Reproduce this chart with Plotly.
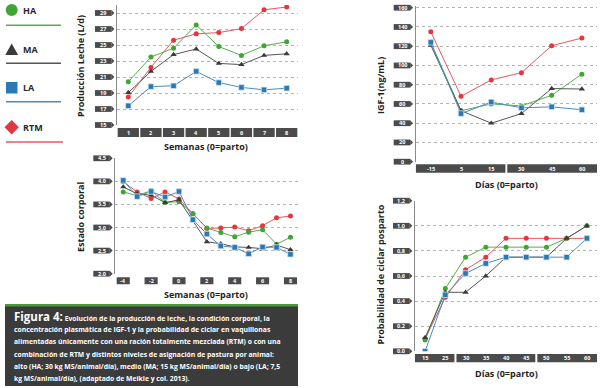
import plotly.graph_objects as go

W, H = 600, 388
def px(x): return x / W
def py(y): return 1 - y / H

# ---------------- data ----------------
semanas = [1, 2, 3, 4, 5, 6, 7, 8]
leche_HA = [20.4, 23.5, 24.6, 27.5, 24.8, 23.7, 24.9, 25.4]
leche_MA = [19.05, 21.7, 23.8, 24.5, 22.7, 22.55, 23.7, 23.9]
leche_LA = [17.4, 19.8, 19.9, 21.7, 20.3, 19.7, 19.4, 19.6]
leche_RTM = [18.5, 22.2, 25.6, 26.4, 26.55, 27.05, 29.4, 29.75]

dias_igf = ["-15", "5", "15", "30", "45", "60"]
igf_HA = [124, 53, 60, 58, 69, 91]
igf_MA = [121, 53, 40, 50, 76, 75.5]
igf_LA = [124, 50, 62, 56, 57, 54]
igf_RTM = [135, 68, 85, 92.5, 120.5, 128.5]

semanas_cc = [-4, -3, -2, -1, 0, 1, 2, 3, 4, 5, 6, 7, 8]
cc_HA = [3.77, 3.69, 3.80, 3.54, 3.56, 3.30, 2.99, 2.89, 2.80, 2.90, 2.95, 2.64, 2.79]
cc_MA = [3.88, 3.73, 3.70, 3.54, 3.60, 3.15, 2.69, 2.65, 2.58, 2.57, 2.54, 2.62, 2.52]
cc_LA = [4.02, 3.67, 3.78, 3.66, 3.78, 3.17, 2.86, 2.60, 2.57, 2.43, 2.58, 2.57, 2.42]
cc_RTM = [3.99, 3.77, 3.63, 3.77, 3.62, 3.30, 2.98, 2.99, 3.01, 2.93, 3.04, 3.21, 3.25]
cc_labels = ["-4", "-2", "0", "2", "4", "6", "8"]

dias_prob = ["15", "25", "30", "35", "40", "45", "50", "55", "60"]
prob_HA = [0.09, 0.50, 0.75, 0.83, 0.83, 0.83, 0.83, 0.90, 1.0]
prob_MA = [0.11, 0.47, 0.47, 0.60, 0.75, 0.75, 0.75, 0.90, 1.0]
prob_LA = [0.0, 0.45, 0.62, 0.70, 0.75, 0.75, 0.75, 0.75, 0.90]
prob_RTM = [0.10, 0.43, 0.65, 0.75, 0.90, 0.90, 0.90, 0.90, 0.90]

leche_ticks = [15, 17, 19, 21, 23, 25, 27, 29]
igf_ticks = [0, 20, 40, 60, 80, 100, 120, 140, 160]
cc_ticks = [2.0, 2.5, 3.0, 3.5, 4.0, 4.5]
cc_tick_text = ["2.0", "2,5", "3.0", "3.5", "4.0", "4.5"]
prob_ticks = [0.0, 0.2, 0.4, 0.6, 0.8, 1.0, 1.2]
prob_tick_text = ["0.0", "0.2", "0,4", "0,6", "0,8", "1.0", "1.2"]

series_names = ["RTM", "HA", "MA", "LA"]
COL = {"HA": "#3fa535", "MA": "#3a3a3a", "LA": "#2a78b4", "RTM": "#e2373f"}
LINECOL = {"HA": "#56b04c", "MA": "#555555", "LA": "#4a8cc0", "RTM": "#e8585e"}
SYM = {"HA": "circle", "MA": "triangle-up", "LA": "square", "RTM": "circle"}

FONT = "Open Sans"
BOX = "#4b4b4b"

fig = go.Figure()

panels = [
    dict(n="", xdom=(117, 298), ydom=(5, 125), yr=(15, 30), xr=(0.5, 8.5),
         x=semanas, data={"HA": leche_HA, "MA": leche_MA, "LA": leche_LA, "RTM": leche_RTM},
         yt=leche_ticks, ytt=[str(v) for v in leche_ticks], bar=(128, 137)),
    dict(n="2", xdom=(415.7, 597), ydom=(5.8, 161.7), yr=(0, 162), xr=(-0.5, 5.5),
         x=list(range(len(dias_igf))), data={"HA": igf_HA, "MA": igf_MA, "LA": igf_LA, "RTM": igf_RTM},
         yt=igf_ticks, ytt=[str(v) for v in igf_ticks], bar=(164.3, 172.7)),
    dict(n="3", xdom=(115.3, 298), ydom=(157.8, 273.7), yr=(2.0, 4.51), xr=(-4.57, 8.54),
         x=semanas_cc, data={"HA": cc_HA, "MA": cc_MA, "LA": cc_LA, "RTM": cc_RTM},
         yt=cc_ticks, ytt=cc_tick_text, bar=(277.3, 284.3)),
    dict(n="4", xdom=(415, 597), ydom=(200.7, 351.3), yr=(0, 1.2), xr=(-0.5, 8.5),
         x=list(range(len(dias_prob))), data={"HA": prob_HA, "MA": prob_MA, "LA": prob_LA, "RTM": prob_RTM},
         yt=prob_ticks, ytt=prob_tick_text, bar=(354, 362.3)),
]

layout_axes = {}
for p in panels:
    n = p["n"]
    xa, ya = "x" + n, "y" + n
    layout_axes["xaxis" + n] = dict(domain=[px(p["xdom"][0]), px(p["xdom"][1])], range=list(p["xr"]),
                                    showgrid=False, showticklabels=False, zeroline=False,
                                    showline=False, anchor=ya, fixedrange=True)
    layout_axes["yaxis" + n] = dict(domain=[py(p["ydom"][1]), py(p["ydom"][0])], range=list(p["yr"]),
                                    tickvals=p["yt"], showticklabels=False, showgrid=True,
                                    gridcolor="#b3b3b3", griddash="dot", gridwidth=1,
                                    showline=True, linecolor="#8a8a8a", linewidth=1,
                                    zeroline=False, anchor=xa, fixedrange=True)
    for s in series_names:
        mk = dict(symbol=SYM[s], size=5 if s != "MA" else 5.5, color=COL[s])
        if s == "LA":
            mk.update(size=5.5, line=dict(color="#cfe2f1", width=0.8))
        fig.add_trace(go.Scatter(x=p["x"], y=p["data"][s], mode="lines+markers",
                                 line=dict(color=LINECOL[s], width=1), marker=mk,
                                 xaxis=xa, yaxis=ya, showlegend=False, name=s))
    # y tick boxes (pixel position derived from the axis range)
    ppu = (p["ydom"][1] - p["ydom"][0]) / (p["yr"][1] - p["yr"][0])
    ax = p["xdom"][0]
    for v, t in zip(p["yt"], p["ytt"]):
        yc = p["ydom"][1] - (v - p["yr"][0]) * ppu
        fig.add_shape(type="rect", xref="paper", yref="paper", x0=px(ax - 22), x1=px(ax - 5.5),
                      y0=py(yc + 2.9), y1=py(yc - 2.9), fillcolor=BOX, line=dict(width=0))
        fig.add_shape(type="path", xref="paper", yref="paper",
                      path=f"M {px(ax-5.6)},{py(yc+2.9)} L {px(ax-2.6)},{py(yc)} L {px(ax-5.6)},{py(yc-2.9)} Z",
                      fillcolor=BOX, line=dict(width=0))
        fig.add_annotation(x=px(ax - 13.7), y=py(yc), xref="paper", yref="paper", text=f"<b>{t}</b>",
                           xanchor="center", yanchor="middle",
                           showarrow=False, font=dict(family=FONT, size=5.5, color="white"))

# x category bars
def xbar(xa, x0, x1, b):
    fig.add_shape(type="rect", xref=xa, yref="paper", x0=x0, x1=x1, y0=py(b[1]), y1=py(b[0]),
                  fillcolor=BOX, line=dict(width=0))

def xlab(xa, x, t, b):
    fig.add_annotation(x=x, y=py((b[0] + b[1]) / 2), xref=xa, yref="paper", text=f"<b>{t}</b>",
                       xanchor="center", yanchor="middle",
                       showarrow=False, font=dict(family=FONT, size=5.5, color="white"))

b = panels[0]["bar"]
for v in semanas:
    xbar("x", v - 0.47, v + 0.47, b)
    xlab("x", v, str(v), b)

b = panels[1]["bar"]
xbar("x2", -0.5, 2.47, b)
xbar("x2", 2.53, 5.5, b)
for i, t in enumerate(dias_igf):
    xlab("x2", i, t, b)

b = panels[2]["bar"]
for t in cc_labels:
    v = int(t)
    xbar("x3", v - 0.47, v + 0.47, b)
    xlab("x3", v, t, b)

b = panels[3]["bar"]
xbar("x4", -0.5, 1.45, b)
xbar("x4", 1.55, 5.45, b)
xbar("x4", 5.55, 8.5, b)
for i, t in enumerate(dias_prob):
    xlab("x4", i, t, b)

# axis titles
def title(x, y, t, ang=0):
    fig.add_annotation(x=px(x), y=py(y), xref="paper", yref="paper", text=f"<b>{t}</b>",
                       xanchor="center", yanchor="middle",
                       showarrow=False, textangle=ang,
                       font=dict(family=FONT, size=9, color="#1e1e1e"))

title(205.5, 146, "Semanas (0=parto)")
title(205.5, 294, "Semanas (0=parto)")
title(506, 184.3, "Días (0=parto)")
title(506, 373.7, "Días (0=parto)")
title(80, 66, "Producción Leche (L/d)", -90)
title(80, 217, "Estado corporal", -90)
title(380, 86, "IGF-1(ng/mL)", -90)
title(380, 274.5, "Probabilidad de ciclar posparto", -90)

# custom legend
fig.add_shape(type="circle", xref="paper", yref="paper", x0=px(5.7), x1=px(17.7), y0=py(16), y1=py(4),
              fillcolor=COL["HA"], line=dict(width=0))
fig.add_shape(type="path", xref="paper", yref="paper",
              path=f"M {px(5.3)},{py(55)} L {px(18.1)},{py(55)} L {px(11.7)},{py(43.5)} Z",
              fillcolor=COL["MA"], line=dict(width=0))
fig.add_shape(type="rect", xref="paper", yref="paper", x0=px(6), x1=px(17.5), y0=py(93.5), y1=py(82),
              fillcolor=COL["LA"], line=dict(width=0))
fig.add_shape(type="path", xref="paper", yref="paper",
              path=f"M {px(4.5)},{py(127.3)} L {px(11.7)},{py(120.1)} L {px(18.9)},{py(127.3)} L {px(11.7)},{py(134.5)} Z",
              fillcolor=COL["RTM"], line=dict(width=0))
for s, yl, xe in [("HA", 25.3, 61), ("MA", 63.3, 61), ("LA", 101.7, 61), ("RTM", 142, 63)]:
    fig.add_shape(type="line", xref="paper", yref="paper", x0=px(6), x1=px(xe), y0=py(yl), y1=py(yl),
                  line=dict(color=LINECOL[s], width=1.5))
for s, yl in [("HA", 10), ("MA", 49.3), ("LA", 87.7), ("RTM", 127.3)]:
    fig.add_annotation(x=px(21), y=py(yl), xref="paper", yref="paper", xanchor="left", yanchor="middle",
                       text=f"<b>{s}</b>", showarrow=False,
                       font=dict(family=FONT, size=9, color="#2a2a2a"))

# caption box
fig.add_shape(type="rect", xref="paper", yref="paper", x0=px(5), x1=px(298), y0=py(386), y1=py(305),
              fillcolor="#3b3b3b", line=dict(width=0))
fig.add_shape(type="rect", xref="paper", yref="paper", x0=px(5), x1=px(298), y0=py(306.5), y1=py(304),
              fillcolor="#4a9a3c", line=dict(width=0))
caption = [
    "<span style='font-size:11.5px'>Figura 4:</span> Evolución de la producción de leche, la condición corporal, la",
    "concentración plasmática de IGF-1 y la probabilidad de ciclar en vaquillonas",
    "alimentadas únicamente con una ración totalmente mezclada (RTM) o con una",
    "combinación de RTM y distintos niveles de asignación de pastura por animal:",
    "alto (HA; 30 kg MS/animal/día), medio (MA; 15 kg MS/animal/día) o bajo (LA; 7,5",
    "kg MS/animal/día), (adaptado de Meikle y col. 2013).",
]
cap_y = [316.5, 329, 341.5, 354, 366.2, 378.2]
for t, yc in zip(caption, cap_y):
    fig.add_annotation(x=px(12), y=py(yc), xref="paper", yref="paper", xanchor="left", yanchor="middle",
                       text=f"<b>{t}</b>", showarrow=False,
                       font=dict(family=FONT, size=6.8, color="white"))

fig.update_layout(width=W, height=H, margin=dict(l=0, r=0, t=0, b=0),
                  paper_bgcolor="white", plot_bgcolor="white", showlegend=False, **layout_axes)

fig.write_html("out.html", config={"displayModeBar": False},
               post_script="document.body.style.margin='0';document.body.style.padding='0';"
                           "document.documentElement.style.margin='0';")
